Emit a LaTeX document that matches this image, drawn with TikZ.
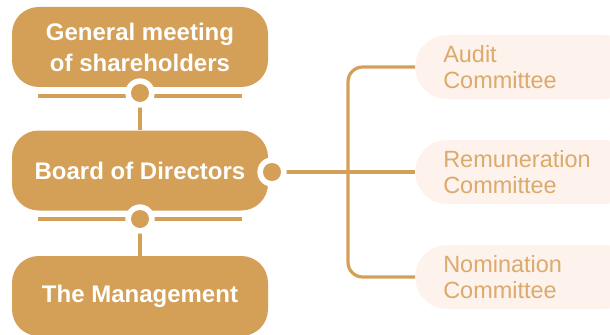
\documentclass[tikz,border=0pt]{standalone}
\usepackage{fontspec}
\setmainfont{Liberation Sans}
\usepackage{xcolor}
\usepackage{tikz}
\usetikzlibrary{calc}

\definecolor{gold}{RGB}{212,159,86}
\definecolor{blush}{RGB}{253,242,236}
\definecolor{softgold}{RGB}{219,170,108}

\tikzset{
  mainbox/.style={fill=gold, text=white, rounded corners=20pt, minimum width=192pt,
    minimum height=60pt, align=center, font=\bfseries\fontsize{18}{23.3}\selectfont},
  combox/.style={fill=blush, text=softgold, rounded corners=24pt, minimum height=48pt,
    text width=124pt, inner xsep=21pt, align=left, anchor=west,
    font=\fontsize{17.6}{19.5}\selectfont},
  conn/.style={draw=gold, line width=2.4pt},
  ring/.style={circle, fill=white, minimum size=22pt, inner sep=0pt},
  knob/.style={circle, fill=gold, minimum size=13.5pt, inner sep=0pt}
}

\begin{document}
\begin{tikzpicture}[x=0.75pt,y=-0.75pt]
						\useasboundingbox (0,0) rectangle (610,335);
						
						\node[mainbox] (gm) at (140,47) {General meeting\\of shareholders};
						\node[mainbox] (board) at (140,170.5) {Board of Directors};
						\node[mainbox] (mgmt) at (140,296) {The Management};
						
						\node[combox] (audit) at (415,67) {Audit\\Committee};
						\node[combox] (remun) at (415,172) {Remuneration\\Committee};
						\node[combox] (nomin) at (415,277) {Nomination\\Committee};
						
						\coordinate (d1) at (140,93);
						\coordinate (d2) at (140,219);
						\coordinate (d3) at (272,172);
						\coordinate (fork) at (348,172);
						
						\coordinate (l1) at (38,96);
						\coordinate (r1) at (242,96);
						\coordinate (l2) at (38,219);
						\coordinate (r2) at (242,219);
						
						\draw[conn] (l1) - - (r1);
						\draw[conn] (l2) - - (r2);
						\draw[conn] (d1) - - (board.north);
						\draw[conn] (d2) - - (mgmt.north);
						\draw[conn] (d3) - - (remun.west);
						\draw[conn, rounded corners=11pt] (audit.west) -| (fork) |- (nomin.west);
						
						\node[ring] (ring1) at (d1) {};
						\node[ring] (ring2) at (d2) {};
						\node[ring] (ring3) at (d3) {};
						\node[knob] (knob1) at (d1) {};
						\node[knob] (knob2) at (d2) {};
						\node[knob] (knob3) at (d3) {};
					\end{tikzpicture}
\end{document}
